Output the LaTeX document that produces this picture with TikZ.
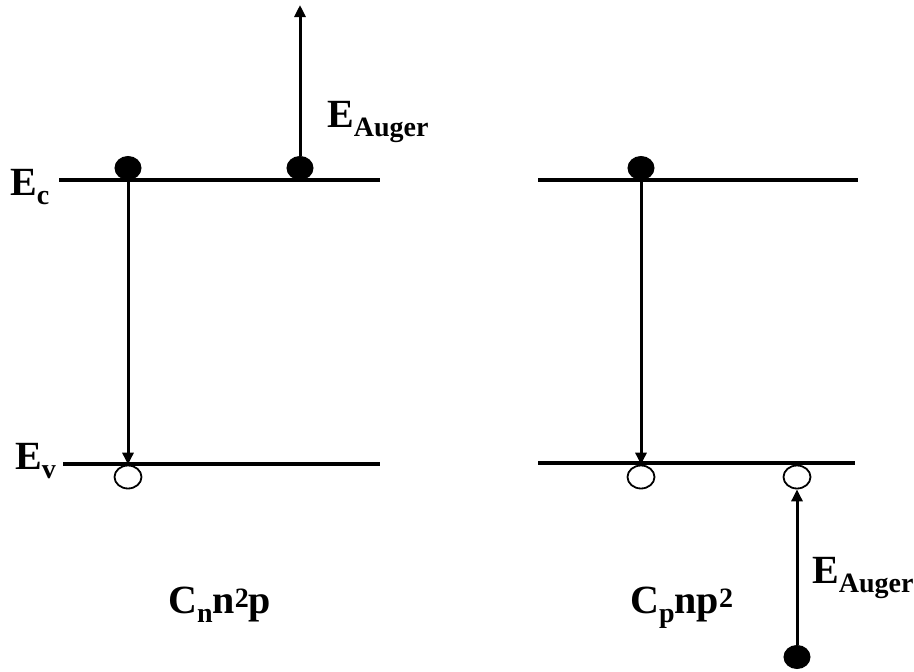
\documentclass[tikz,border=0pt]{standalone}
\usepackage{fontspec}
\setmainfont{Liberation Serif}
\usetikzlibrary{shapes.geometric,arrows.meta}
\tikzset{
  level/.style={line width=3.6pt},
  elec/.style={ellipse,fill=black,draw=black,line width=1pt,minimum width=26pt,minimum height=23pt,inner sep=0pt},
  hole/.style={ellipse,fill=white,draw=black,line width=1.8pt,minimum width=27pt,minimum height=23pt,inner sep=0pt},
  arr/.style={line width=3pt,-{Triangle[length=12pt,width=11pt]}},
  lab/.style={font=\fontsize{40}{44}\selectfont\bfseries,inner sep=0pt,anchor=base west},
}
\newcommand{\sbs}[1]{\raisebox{-9pt}{\fontsize{28}{30}\selectfont\bfseries #1}}
\newcommand{\sps}[1]{\raisebox{6pt}{\fontsize{28}{30}\selectfont\bfseries #1}}
\begin{document}
\begin{tikzpicture}[x=1pt,y=-1pt]
\useasboundingbox (0,0) rectangle (914,672);
% levels
\coordinate (ecL1) at (59,180); \coordinate (ecL2) at (380,180);
\coordinate (evL1) at (63,464); \coordinate (evL2) at (380,464);
\coordinate (ecR1) at (538,180); \coordinate (ecR2) at (858,180);
\coordinate (evR1) at (538,463); \coordinate (evR2) at (855,463);
\draw[level] (ecL1) -- (ecL2);
\draw[level] (evL1) -- (evL2);
\draw[level] (ecR1) -- (ecR2);
\draw[level] (evR1) -- (evR2);
% particles
\node[elec] (e1) at (128,168) {};
\node[elec] (e2) at (300,168) {};
\node[hole] (h1) at (128,477) {};
\node[elec] (e3) at (641,168) {};
\node[hole] (h2) at (641,477) {};
\node[hole] (h3) at (797,477) {};
\node[elec] (e4) at (797,657) {};
\coordinate (top) at (300,5);
% arrows
\draw[arr] (e1.south) -- (h1.north);
\draw[arr] (e2.north) -- (top);
\draw[arr] (e3.south) -- (h2.north);
\draw[arr] (e4.north) -- (h3.south);
% labels
\node[lab] (lEc) at (10,195) {E\sbs{c}};
\node[lab] (lEv) at (15,469) {E\sbs{v}};
\node[lab] (lA1) at (327,127) {E\sbs{Auger}};
\node[lab] (lA2) at (812,583) {E\sbs{Auger}};
\node[lab] (lC1) at (168,613) {C\sbs{n}n\sps{2}p};
\node[lab] (lC2) at (630,613) {C\sbs{p}np\sps{2}};
\end{tikzpicture}
\end{document}
